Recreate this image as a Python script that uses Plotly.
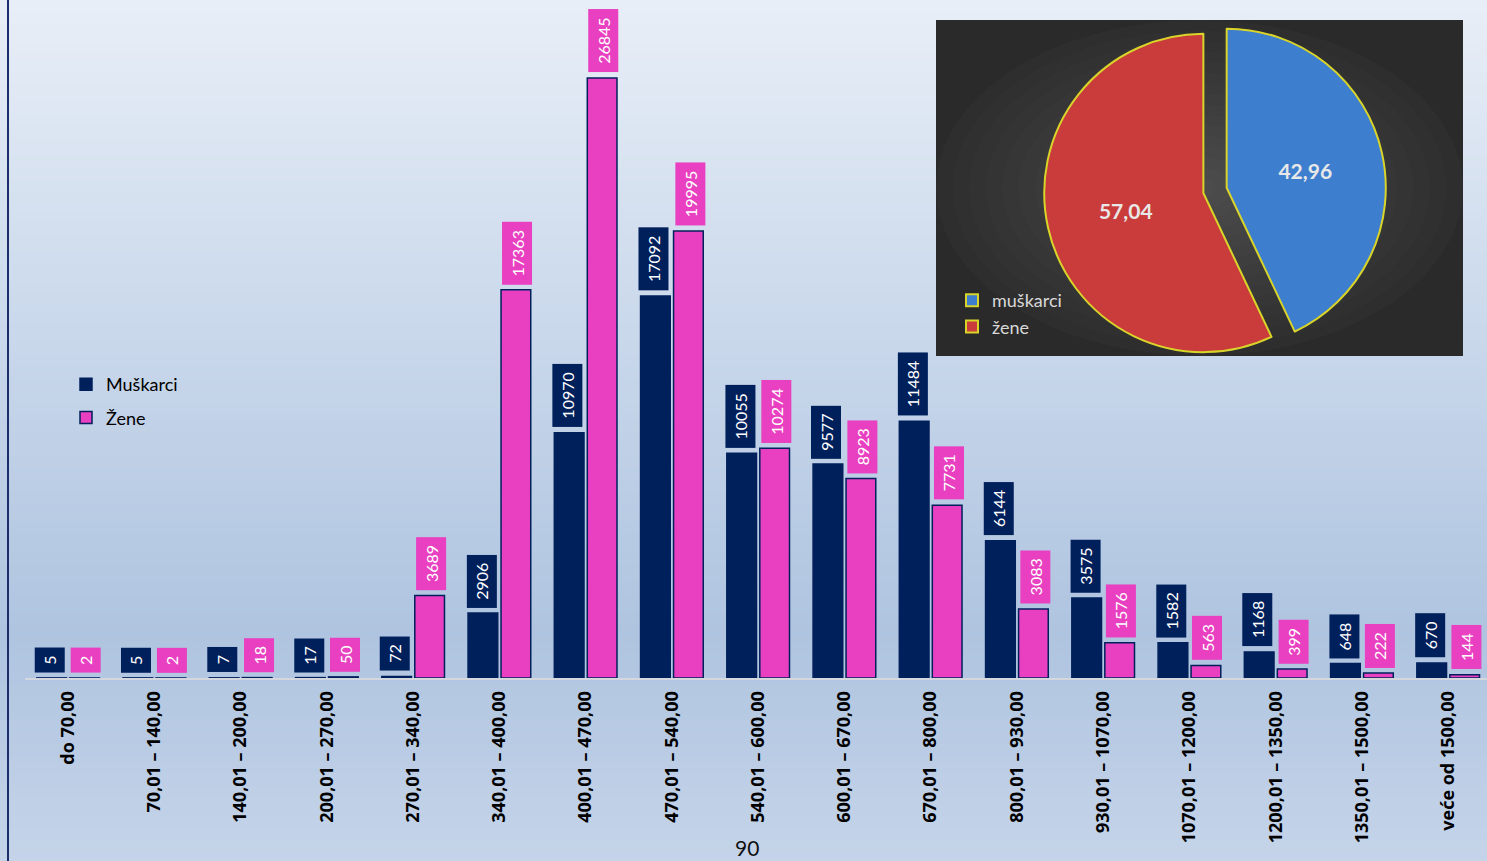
import plotly.graph_objs as go

categories = ["do 70,00", "70,01 – 140,00", "140,01 – 200,00", "200,01 – 270,00",
              "270,01 – 340,00", "340,01 – 400,00", "400,01 – 470,00", "470,01 – 540,00",
              "540,01 – 600,00", "600,01 – 670,00", "670,01 – 800,00", "800,01 – 930,00",
              "930,01 – 1070,00", "1070,01 – 1200,00", "1200,01 – 1350,00",
              "1350,01 – 1500,00", "veće od 1500,00"]
muskarci = [5, 5, 7, 17, 72, 2906, 10970, 17092, 10055, 9577, 11484, 6144, 3575, 1582, 1168, 648, 670]
zene = [2, 2, 18, 50, 3689, 17363, 26845, 19995, 10274, 8923, 7731, 3083, 1576, 563, 399, 222, 144]

pie_labels = ["muškarci", "žene"]
pie_values = [42.96, 57.04]

NAVY = "#00205C"
PINK = "#E840C0"
FONT = "Lato, 'Open Sans', sans-serif"

W, H = 1487, 861
L, B = 25, 183
PW, PH = W - L, H - B


def px_x(x):
    return (x - L) / PW


def px_y(y):
    return (PH - y) / PH


def mix(c1, c2, t):
    a = [int(c1[i:i + 2], 16) for i in (1, 3, 5)]
    b = [int(c2[i:i + 2], 16) for i in (1, 3, 5)]
    return "rgb(%d,%d,%d)" % tuple(round(a[k] + (b[k] - a[k]) * t) for k in range(3))


if __name__ == "__main__":
    fig = go.Figure()
    fig.add_trace(go.Bar(name="Muškarci", x=categories, y=muskarci, legendgroup="m",
                         marker=dict(color=NAVY, line=dict(color=NAVY, width=1.5))))
    fig.add_trace(go.Bar(name="Žene", x=categories, y=zene, legendgroup="z",
                         marker=dict(color=PINK, line=dict(color=NAVY, width=1.5))))

    fig.add_trace(go.Pie(
        labels=pie_labels, values=pie_values, sort=False, direction="clockwise", rotation=0,
        pull=[0.15, 0], texttemplate="%{value:.2f}", textposition="inside",
        insidetextorientation="horizontal",
        textfont=dict(family=FONT, size=21, color="#E8E8E8", weight="bold"),
        marker=dict(colors=["#3E7ECE", "#CA3C3C"], line=dict(color="#D8D42A", width=2)),
        domain=dict(x=[0.656, 0.956], y=[px_y(376), px_y(10)]),
        legend="legend2", hoverinfo="skip"))

    # background gradient, drawn as thin strips
    shapes = []
    stops = [(0, "#E8EEF7"), (300, "#CCDAEC"), (630, "#AFC4E0"), (861, "#C5D4E9")]
    step = 6
    for y in range(0, H, step):
        for (y0, c0), (y1, c1) in zip(stops, stops[1:]):
            if y0 <= y <= y1:
                col = mix(c0, c1, (y - y0) / (y1 - y0))
                break
        shapes.append(dict(type="rect", xref="paper", yref="paper", layer="below",
                           x0=px_x(0), x1=px_x(W), y0=px_y(y + step + 1), y1=px_y(y),
                           fillcolor=col, line=dict(width=0)))

    # dark panel behind the pie with a soft radial glow
    bx0, bx1, by0, by1 = 936, 1463, 20, 356
    shapes.append(dict(type="rect", xref="paper", yref="paper", layer="below",
                       x0=px_x(bx0), x1=px_x(bx1), y0=px_y(by1), y1=px_y(by0),
                       fillcolor="#2A2A2A", line=dict(width=0)))
    cx, cy = (bx0 + bx1) / 2, (by0 + by1) / 2
    n = 16
    for i in range(n):
        f = 1 - i / n
        rx, ry = (bx1 - bx0) / 2 * f, (by1 - by0) / 2 * f
        shapes.append(dict(type="circle", xref="paper", yref="paper", layer="below",
                           x0=px_x(cx - rx), x1=px_x(cx + rx), y0=px_y(cy + ry), y1=px_y(cy - ry),
                           fillcolor=mix("#2C2C2C", "#4C4C4C", (i + 1) / n), line=dict(width=0)))

    # left border line
    shapes.append(dict(type="line", xref="paper", yref="paper", x0=px_x(8), x1=px_x(8),
                       y0=px_y(H), y1=px_y(0), line=dict(color="#1B2E6B", width=2)))

    annotations = []
    for vals, col, dx in [(muskarci, NAVY, -18), (zene, PINK, 18)]:
        for c, v in zip(categories, vals):
            s = str(v)
            annotations.append(dict(
                x=c, y=v, xref="x", yref="y", text=s, showarrow=False, textangle=-90,
                xshift=dx, yshift=5, yanchor="bottom", xanchor="center",
                bgcolor=col, borderpad=5, width=4 + 9.6 * len(s),
                font=dict(family=FONT, size=16, color="white")))

    annotations.append(dict(x=px_x(747), y=px_y(848), xref="paper", yref="paper", text="90",
                            showarrow=False, yanchor="middle",
                            font=dict(family=FONT, size=21, color="#111111")))

    fig.update_layout(
        width=W, height=H,
        margin=dict(l=L, r=0, t=0, b=B),
        paper_bgcolor="#C8D6EA", plot_bgcolor="rgba(0,0,0,0)",
        separators=",.",
        barmode="group", bargap=0.235, bargroupgap=0.1,
        font=dict(family=FONT, color="black"),
        shapes=shapes, annotations=annotations,
        xaxis=dict(range=[-0.5, 16.45], tickangle=-90, showgrid=False, showline=True,
                   linecolor="#D4D8DE", linewidth=2, ticks="", ticklabelstandoff=4,
                   tickfont=dict(family="'Open Sans', sans-serif", size=18, color="black",
                                 weight="bold")),
        yaxis=dict(range=[0, 30330], visible=False, showgrid=False),
        legend=dict(x=px_x(66), y=px_y(366), xanchor="left", yanchor="top",
                    bgcolor="rgba(0,0,0,0)", tracegroupgap=7, traceorder="grouped",
                    font=dict(family=FONT, size=18, color="black")),
        legend2=dict(x=px_x(952), y=px_y(282), xanchor="left", yanchor="top",
                     bgcolor="rgba(0,0,0,0)",
                     font=dict(family=FONT, size=18, color="#D9D9D9")),
        hovermode=False,
    )

    fig.write_html("out.html", config={"displayModeBar": False},
                   post_script="document.body.style.margin='0';")
